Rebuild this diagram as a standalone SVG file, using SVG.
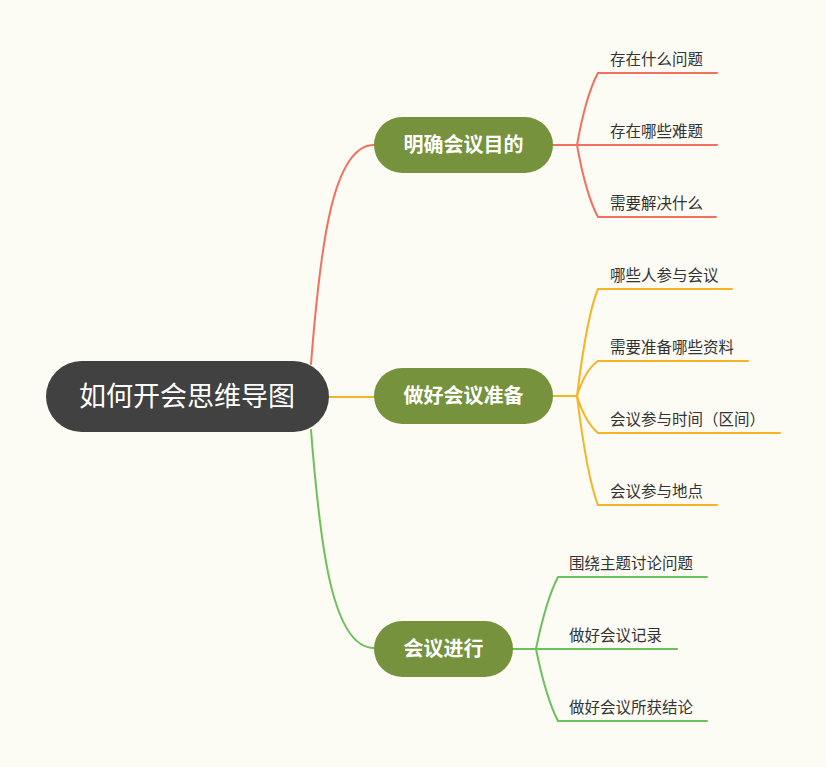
<svg xmlns="http://www.w3.org/2000/svg" width="826" height="767" viewBox="0 0 826 767">
<style>
.bg{fill:#FCFBF4}
.root{fill:#414141}
.main{fill:#76923C}
.rt{font-family:"Noto Sans CJK SC","Noto Sans",sans-serif;font-size:27px;fill:#FFFFFF;text-anchor:middle}
.mt{font-family:"Noto Sans CJK SC","Noto Sans",sans-serif;font-size:20px;font-weight:bold;fill:#FFFFFF;text-anchor:middle}
.ct{font-family:"Noto Sans CJK SC","Noto Sans",sans-serif;font-size:15.5px;fill:#333333}
.c{fill:none;stroke-width:2;stroke-linecap:round}
.r{stroke:#F2705E}
.o{stroke:#F5B325}
.g{stroke:#6DC15C}
</style>
<rect class="bg" x="0" y="0" width="826" height="767"/>
<g id="connectors">
<path class="c r" d="M311,364 C320,250 332,145 374,145"/>
<path class="c o" d="M329,397 L374,397"/>
<path class="c g" d="M311,430 C320,545 332,648 374,648"/>
<path class="c r" d="M553,145 L577,145"/>
<path class="c r" d="M577,145 Q586,95 598,73 L717,73"/>
<path class="c r" d="M577,145 L717,145"/>
<path class="c r" d="M577,145 Q586,195 598,217 L716,217"/>
<path class="c o" d="M553,396 L577,396"/>
<path class="c o" d="M577,396 Q587,315 598,289 L732,289"/>
<path class="c o" d="M577,396 Q585,370 598,361 L748,361"/>
<path class="c o" d="M577,396 Q585,422 598,433 L780,433"/>
<path class="c o" d="M577,396 Q587,477 598,505 L717,505"/>
<path class="c g" d="M513,649 L536,649"/>
<path class="c g" d="M536,649 Q546,600 558,577 L707,577"/>
<path class="c g" d="M536,649 L677,649"/>
<path class="c g" d="M536,649 Q546,698 558,721 L707,721"/>
</g>
<g id="root">
<rect class="root" x="46" y="361" width="283" height="71" rx="35.5"/>
<text class="rt" x="187" y="406">如何开会思维导图</text>
</g>
<g id="n1">
<rect class="main" x="374" y="117" width="179" height="56" rx="28"/>
<text class="mt" x="463.5" y="152">明确会议目的</text>
</g>
<g id="n2">
<rect class="main" x="374" y="368" width="179" height="56" rx="28"/>
<text class="mt" x="463.5" y="403">做好会议准备</text>
</g>
<g id="n3">
<rect class="main" x="374" y="621" width="139" height="56" rx="28"/>
<text class="mt" x="443.5" y="656">会议进行</text>
</g>
<g id="c11"><text class="ct" x="610" y="65">存在什么问题</text></g>
<g id="c12"><text class="ct" x="610" y="137">存在哪些难题</text></g>
<g id="c13"><text class="ct" x="610" y="209">需要解决什么</text></g>
<g id="c21"><text class="ct" x="610" y="281">哪些人参与会议</text></g>
<g id="c22"><text class="ct" x="610" y="353">需要准备哪些资料</text></g>
<g id="c23"><text class="ct" x="610" y="425">会议参与时间（区间）</text></g>
<g id="c24"><text class="ct" x="610" y="497">会议参与地点</text></g>
<g id="c31"><text class="ct" x="569" y="569">围绕主题讨论问题</text></g>
<g id="c32"><text class="ct" x="569" y="641">做好会议记录</text></g>
<g id="c33"><text class="ct" x="569" y="713">做好会议所获结论</text></g>
</svg>
